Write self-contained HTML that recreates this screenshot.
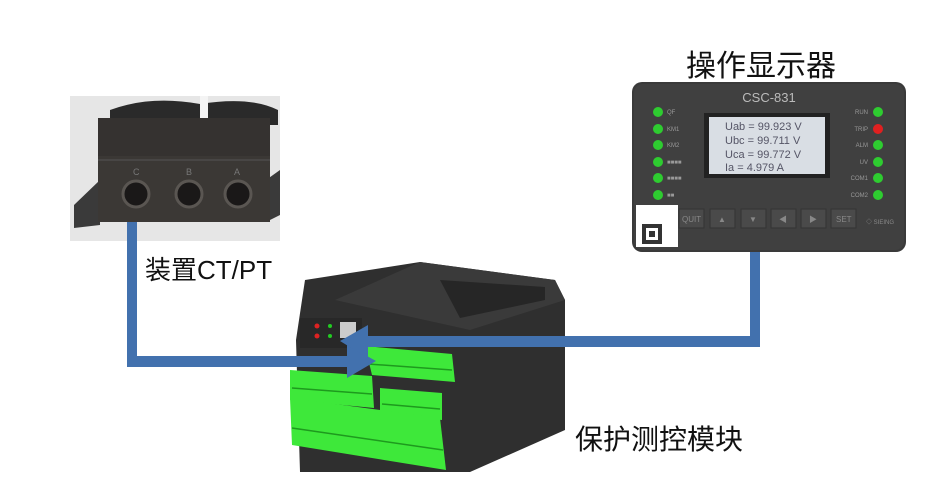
<!DOCTYPE html>
<html><head><meta charset="utf-8"><style>
html,body{margin:0;padding:0;background:#fff;}
svg{display:block;}
text{font-family:"Liberation Sans","Noto Sans CJK SC",sans-serif;}
</style></head><body>
<svg width="930" height="502" viewBox="0 0 930 502" xmlns="http://www.w3.org/2000/svg">
<rect width="930" height="502" fill="#fff"/>
<!-- CT photo -->
<rect x="70" y="96" width="210" height="145" fill="#e6e6e6"/>
<path d="M110 110 Q150 95 200 104 Q250 96 278 110 L278 125 L110 125Z" fill="#2a2a2a"/>
<rect x="200" y="96" width="8" height="25" fill="#f4f4f4"/>
<path d="M74 205 L100 180 L100 225 L74 228Z" fill="#3a3a3a"/>
<path d="M266 180 L280 170 L280 215 L266 222Z" fill="#3a3a3a"/>
<rect x="98" y="118" width="172" height="104" fill="#3b3835"/>
<rect x="98" y="118" width="172" height="38" fill="#353230"/>
<line x1="98" y1="160" x2="270" y2="160" stroke="#555" stroke-width="1"/>
<g fill="#1a1818" stroke="#5a5652" stroke-width="3">
<circle cx="136" cy="194" r="13"/><circle cx="189" cy="194" r="13"/><circle cx="238" cy="194" r="13"/>
</g>
<g fill="#777" font-size="9" font-family="Liberation Serif,serif"><text x="133" y="175">C</text><text x="186" y="175">B</text><text x="234" y="175">A</text></g>
<!-- display -->
<rect x="632" y="82" width="274" height="170" rx="10" fill="#3a3a3a"/>
<rect x="634" y="84" width="270" height="166" rx="9" fill="#404040"/>
<text x="769" y="102" text-anchor="middle" font-size="13" fill="#bbb">CSC-831</text>
<rect x="704" y="113" width="126" height="65" fill="#222"/>
<rect x="709" y="117" width="116" height="57" fill="#d9dee4"/>
<g font-family="Liberation Mono,monospace" font-size="11" fill="#556">
<text x="725" y="130">Uab = 99.923 V</text><text x="725" y="144">Ubc = 99.711 V</text>
<text x="725" y="158">Uca = 99.772 V</text><text x="725" y="171">Ia  = 4.979 A</text></g>
<g fill="#2ecc30">
<circle cx="658" cy="112" r="5"/><circle cx="658" cy="129" r="5"/><circle cx="658" cy="145" r="5"/><circle cx="658" cy="162" r="5"/><circle cx="658" cy="178" r="5"/><circle cx="658" cy="195" r="5"/>
<circle cx="878" cy="112" r="5"/><circle cx="878" cy="162" r="5"/><circle cx="878" cy="145" r="5"/><circle cx="878" cy="178" r="5"/><circle cx="878" cy="195" r="5"/></g>
<circle cx="878" cy="129" r="5" fill="#e02020"/>
<g font-size="6" fill="#999"><text x="667" y="114">QF</text><text x="667" y="131">KM1</text><text x="667" y="147">KM2</text><text x="667" y="164">■■■■</text><text x="667" y="180">■■■■</text><text x="667" y="197">■■</text>
<text x="868" y="114" text-anchor="end">RUN</text><text x="868" y="131" text-anchor="end">TRIP</text><text x="868" y="147" text-anchor="end">ALM</text><text x="868" y="164" text-anchor="end">UV</text><text x="868" y="180" text-anchor="end">COM1</text><text x="868" y="197" text-anchor="end">COM2</text></g>
<g fill="#4a4a4a" stroke="#333"><rect x="679" y="209" width="25" height="19"/><rect x="710" y="209" width="25" height="19"/><rect x="741" y="209" width="25" height="19"/><rect x="771" y="209" width="25" height="19"/><rect x="801" y="209" width="25" height="19"/><rect x="831" y="209" width="25" height="19"/></g>
<g font-size="8" fill="#888"><text x="682" y="222">QUIT</text><text x="836" y="222">SET</text><text x="718" y="222">▲</text><text x="749" y="222">▼</text><text x="779" y="222">◀</text><text x="809" y="222">▶</text><text x="866" y="224" font-size="6">◇ SIEING</text></g>
<rect x="636" y="205" width="42" height="42" fill="#fff"/>
<rect x="642" y="224" width="20" height="20" fill="#333"/><rect x="646" y="228" width="12" height="12" fill="#fff"/><rect x="649" y="231" width="6" height="6" fill="#333"/>
<!-- module -->
<path d="M305 280 L420 262 L555 280 L565 300 L565 430 L470 472 L300 472 L296 340Z" fill="#2f2f2f"/>
<path d="M420 262 L555 280 L565 300 L470 330 L335 300Z" fill="#3a3a3a"/>
<path d="M440 280 L545 287 L545 300 L460 318Z" fill="#262626"/>
<rect x="300" y="318" width="62" height="30" fill="#282828"/>
<circle cx="317" cy="326" r="2.5" fill="#d22"/><circle cx="317" cy="336" r="2.5" fill="#d22"/>
<circle cx="330" cy="326" r="2" fill="#2c2"/><circle cx="330" cy="336" r="2" fill="#2c2"/>
<rect x="340" y="322" width="16" height="16" fill="#ccc"/>
<g fill="#3ee83a">
<path d="M365 346 L452 354 L455 382 L372 375Z"/>
<path d="M290 370 L372 376 L374 408 L290 400Z"/>
<path d="M380 388 L442 393 L442 420 L380 414Z"/>
<path d="M290 398 L440 418 L446 470 L292 445Z"/></g>
<g stroke="#1e9a1e" stroke-width="1.5">
<line x1="368" y1="364" x2="452" y2="370"/><line x1="292" y1="388" x2="372" y2="394"/><line x1="382" y1="404" x2="440" y2="409"/><line x1="292" y1="428" x2="443" y2="450"/></g>
<!-- connectors -->
<g fill="#4271ae">
<rect x="127" y="222" width="10" height="145"/>
<rect x="127" y="356" width="222" height="11"/>
<polygon points="347,345 376,361 347,378"/>
<rect x="750" y="252" width="10" height="95"/>
<rect x="366" y="336" width="394" height="11"/>
<polygon points="368,325 340,341 368,358"/></g>
<!-- labels -->
<text x="686" y="76" font-size="30" fill="#111">操作显示器</text>
<text x="145" y="279" font-size="26" fill="#111">装置CT/PT</text>
<text x="575" y="449" font-size="28" fill="#111">保护测控模块</text>
</svg>
</body></html>
